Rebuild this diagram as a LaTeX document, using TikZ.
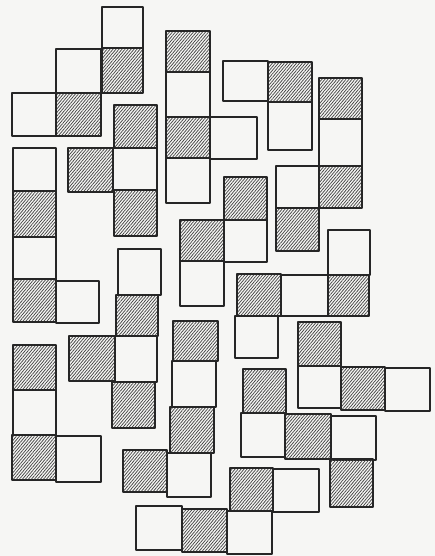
\documentclass[tikz,border=0pt]{standalone}
\usetikzlibrary{patterns.meta}
\definecolor{paper}{RGB}{246,246,244}
\tikzset{
  cellw/.style={draw=black!85, line width=1.3pt, fill=paper, line join=round},
  cellh/.style={draw=black!85, line width=1.3pt, line join=round,
    pattern={Lines[angle=50, distance=2.3pt, line width=0.75pt]}, pattern color=black!72},
}
\newcommand{\cw}[4]{\draw[cellw] (#1,#2) rectangle (#3,#4);}
\newcommand{\ch}[4]{\draw[cellh] (#1,#2) rectangle (#3,#4);}
\begin{document}
\begin{tikzpicture}[x=1pt,y=-1pt]
\fill[paper] (0,0) rectangle (435,556);
\useasboundingbox (0,0) rectangle (435,556);
% shape 1
\cw{102}{7}{143}{48}
\ch{102}{48}{143}{93}
\cw{56}{49}{101}{93}
\ch{56}{93}{101}{136}
\cw{12}{93}{56}{136}
% shape 2
\ch{166}{31}{210}{72}
\cw{166}{72}{210}{117}
\ch{166}{117}{210}{158}
\cw{166}{158}{210}{203}
\cw{210}{117}{257}{159}
% shape 3
\cw{223}{61}{268}{101}
\ch{268}{62}{312}{102}
\cw{268}{102}{312}{150}
% shape 4
\ch{319}{78}{362}{119}
\cw{319}{119}{362}{166}
\ch{319}{166}{362}{208}
\cw{276}{166}{319}{208}
\ch{276}{208}{319}{251}
% shape 5
\ch{114}{105}{157}{148}
\ch{68}{148}{113}{192}
\cw{113}{148}{157}{190}
\ch{114}{190}{157}{236}
% shape 6
\cw{13}{148}{56}{191}
\ch{13}{191}{56}{237}
\cw{13}{237}{56}{279}
\ch{13}{279}{56}{322}
\cw{56}{281}{99}{323}
% shape 7
\cw{118}{249}{161}{295}
\ch{116}{295}{158}{336}
\cw{115}{336}{157}{382}
\ch{69}{336}{115}{381}
\ch{112}{382}{155}{428}
% shape 8
\ch{224}{177}{267}{220}
\ch{180}{220}{224}{261}
\cw{224}{220}{267}{262}
\cw{180}{261}{224}{306}
% shape 9
\cw{328}{230}{370}{275}
\ch{328}{275}{369}{316}
\cw{281}{275}{328}{316}
\ch{237}{274}{281}{316}
\cw{235}{316}{278}{358}
% shape 10
\ch{298}{322}{341}{366}
\cw{298}{366}{341}{408}
\ch{341}{367}{385}{410}
\cw{385}{368}{430}{411}
% shape 11
\ch{13}{345}{56}{390}
\cw{13}{390}{56}{435}
\ch{12}{435}{56}{480}
\cw{56}{436}{101}{482}
% shape 12
\ch{173}{321}{218}{361}
\cw{172}{361}{216}{407}
\ch{170}{407}{214}{453}
\cw{167}{453}{211}{497}
\ch{123}{450}{167}{492}
% shape 13
\ch{243}{369}{286}{413}
\cw{241}{413}{285}{457}
\ch{285}{414}{331}{459}
\cw{331}{416}{376}{460}
\ch{330}{459}{373}{507}
% shape 14
\ch{230}{468}{273}{511}
\cw{273}{469}{319}{512}
\cw{136}{506}{182}{550}
\ch{182}{509}{227}{552}
\cw{227}{511}{272}{554}
\end{tikzpicture}
\end{document}
